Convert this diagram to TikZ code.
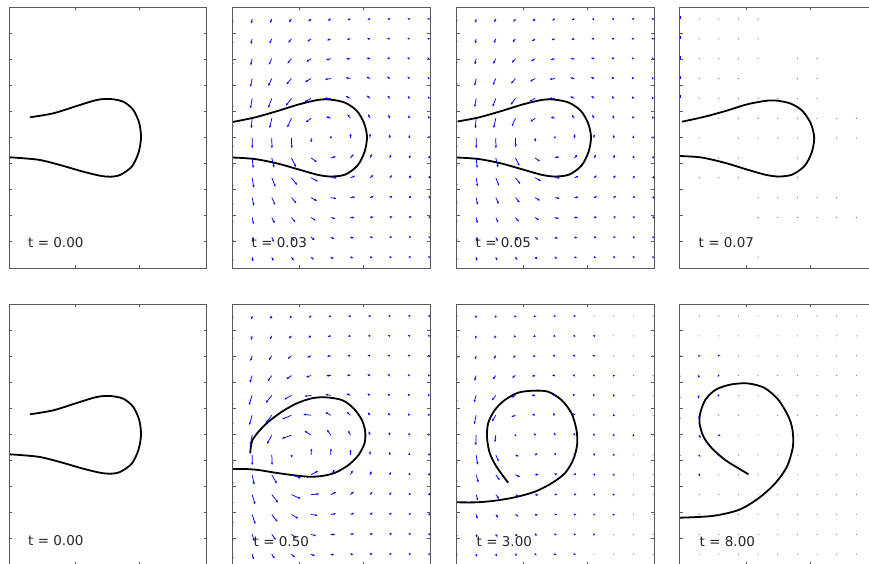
\documentclass[tikz,border=0pt]{standalone}
\usepackage{fontspec}
\setmainfont{DejaVu Sans}
\usetikzlibrary{arrows.meta}

% frame and ticks of one panel
\newcommand\frm{%
  \draw[ax] (0,0) rectangle (197.5,261);
  \foreach \ty in {1,...,9}{
    \draw[ax] (0,26.1*\ty) -- ++(3,0);
    \draw[ax] (197.5,26.1*\ty) -- ++(-3,0);}
  \foreach \tx in {66.5,130.5}{
    \draw[ax] (\tx,0) -- ++(0,3);
    \draw[ax] (\tx,261) -- ++(0,-3);}
}

% velocity arrows from vortices vx/vy/vg/va (units of 10px) and their images
\newcommand\quiv[1]{%
  \foreach \j in {0,...,10}{
    \foreach \k in {0,...,12}{
      \pgfmathsetmacro\qx{1.965*\j}
      \pgfmathsetmacro\qy{1.2+1.985*\k}
      \gdef\qu{0}\gdef\qv{0}
      \foreach \vx/\vy/\vg/\va in {#1}{
        \pgfmathsetmacro\rx{\qx-\vx}
        \pgfmathsetmacro\ry{\qy-\vy}
        \pgfmathsetmacro\ra{\rx*\rx+\ry*\ry+\va*\va}
        \pgfmathsetmacro\rb{(\qx+\vx)*(\qx+\vx)+\ry*\ry+\va*\va}
        \pgfmathsetmacro\tu{\qu+\vg*(\ry/\ra-\ry/\rb)}
        \pgfmathsetmacro\tv{\qv+\vg*((\qx+\vx)/\rb-\rx/\ra)}
        \xdef\qu{\tu}\xdef\qv{\tv}}
      \pgfmathsetmacro\qL{veclen(\qu,\qv)}
      \pgfmathsetmacro\qs{min(1,10/max(\qL,0.01))}
      \ifdim\qL pt<1.3pt
        \fill[qd] (10*\qx,10*\qy) circle[radius=0.6pt];
      \else
        \draw[qv] (10*\qx,10*\qy) -- ++(\qs*\qu,\qs*\qv);
      \fi
  }}}

\begin{document}
\begin{tikzpicture}[x=1pt,y=-1pt,
  ax/.style={draw=black!65,line width=0.9pt},
  crv/.style={line width=1.8pt,line join=round},
  qv/.style={blue,line width=0.75pt,-{Stealth[length=2.6pt,width=2.2pt]}},
  qd/.style={blue!60},
  lbl/.style={anchor=west,font=\fontsize{13.5}{16}\selectfont,text=black!85,inner sep=0pt}]
\useasboundingbox (0,0) rectangle (869,564);

% top row
\begin{scope}[shift={(9,7)}]
  \begin{scope}\clip (0,0) rectangle (197.5,261);
  \draw[crv] plot[smooth] coordinates {(21,110.3) (44.3,106.3) (67.7,99) (87.7,93) (101,92) (114.3,94.7) (124.3,103) (130.3,116.3) (132,131.3) (129.3,146.3) (122.7,159.7) (111,168) (101,169.7) (91,168.7) (74.3,164.7) (51,158) (31,153) (11,151) (0,150.3)};
  \end{scope}
  \frm
  \node[lbl] (l1) at (19,236) {t = 0.00};
\end{scope}

\begin{scope}[shift={(232.5,7)}]
  \begin{scope}\clip (0,0) rectangle (197.5,261);
  \draw[crv] plot[smooth] coordinates {(0,115) (22,110.5) (45,104) (66,97.5) (85,93) (97,92.5) (112,95.5) (124,103.5) (131.5,116) (134.5,130) (132,145) (125,158.5) (113,167.5) (99,169.5) (86,168) (68,163) (45,156.5) (22,152) (0,150.5)};
  \quiv{8/13/60/4}
  \end{scope}
  \frm
  \node[lbl] (l2) at (19,236) {t = 0.03};
\end{scope}

\begin{scope}[shift={(456.5,7)}]
  \begin{scope}\clip (0,0) rectangle (197.5,261);
  \draw[crv] plot[smooth] coordinates {(1,114.5) (22,110.5) (45,104) (66,97.5) (85,93) (97,92.5) (112,95.5) (124,103.5) (131.5,116) (134.5,130) (132,145) (125,158.5) (113,167.5) (99,169.5) (86,168) (68,163) (45,156.5) (22,152) (0,150.5)};
  \quiv{8/13/52/4}
  \end{scope}
  \frm
  \node[lbl] (l3) at (19,236) {t = 0.05};
\end{scope}

\begin{scope}[shift={(679.5,7)}]
  \begin{scope}\clip (0,0) rectangle (197.5,261);
  \draw[crv] plot[smooth] coordinates {(2.4,114.7) (24,110) (46,104) (67,97.5) (85,94) (96,93.5) (111,96.5) (123,104) (131.5,117) (134.7,131.3) (132,146) (125,159) (113,167.5) (100,169.5) (87,168) (69,163) (46,156) (22,150.5) (0,149)};
  \foreach \k/\cols in {0/{1,2,3,4},1/{1,2,3,4},2/{1,2,3,4,6,7},3/{1,2,3,6,7},
      4/{1,2,3,4,5,6,7},5/{1,2,3,4,5,6,7,8,9},6/{1,3,4,5,6,8,9},7/{2,3,6},
      8/{1,2,3,5,6},9/{4,5,6,7,8},10/{4,5,6,7,8,9},12/{4}}
    \foreach \j in \cols
      \fill[qd] (19.65*\j,12+19.85*\k) circle[radius=0.65pt];
  \foreach \k in {0,...,4}
    \draw[blue,line width=0.7pt] (0.5,12+19.85*\k) -- ++(0,-3);
  \end{scope}
  \frm
  \node[lbl] (l4) at (19,236) {t = 0.07};
\end{scope}

% bottom row
\begin{scope}[shift={(9,304)}]
  \begin{scope}\clip (0,0) rectangle (197.5,261);
  \draw[crv] plot[smooth] coordinates {(21,110.3) (44.3,106.3) (67.7,99) (87.7,93) (101,92) (114.3,94.7) (124.3,103) (130.3,116.3) (132,131.3) (129.3,146.3) (122.7,159.7) (111,168) (101,169.7) (91,168.7) (74.3,164.7) (51,158) (31,153) (11,151) (0,150.3)};
  \end{scope}
  \frm
  \node[lbl] (l5) at (19,237) {t = 0.00};
\end{scope}

\begin{scope}[shift={(232.5,304)}]
  \begin{scope}\clip (0,0) rectangle (197.5,261);
  \draw[crv] plot[smooth] coordinates {(0,165) (12.7,165) (26,166) (42.7,168.7) (59.4,171) (76,172.7) (89.4,172) (102.7,168.7) (116,161) (126,151) (132,139.3) (132.7,127.7) (129.4,116) (121,104.3) (109.4,96) (92.7,93.3) (79.4,94.3) (64.4,99.3) (49.4,107.7) (36,117.7) (26,127.7) (20,136) (18.4,142.7) (17.7,149.3)};
  \quiv{5.5/15/70/3}
  \end{scope}
  \frm
  \node[lbl] (l6) at (21,237.5) {t = 0.50};
\end{scope}

\begin{scope}[shift={(456.5,304)}]
  \begin{scope}\clip (0,0) rectangle (197.5,261);
  \draw[crv] plot[smooth] coordinates {(0,198.3) (20,198.3) (38.3,196.7) (58.3,193.3) (78.3,187.7) (95,179.3) (108.3,169.3) (116.6,156) (120.6,141) (120,126) (115,109.3) (105,96) (91.6,87.7) (76.6,86.7) (61.6,88.7) (48.3,96) (38.3,106) (31.6,119.3) (30.6,134.3) (33.3,149.3) (40,162.7) (51.6,178.7)};
  \quiv{5/13.5/45/4}
  \end{scope}
  \frm
  \node[lbl] (l7) at (20,237.5) {t = 3.00};
\end{scope}

\begin{scope}[shift={(679.5,304)}]
  \begin{scope}\clip (0,0) rectangle (197.5,261);
  \draw[crv] plot[smooth] coordinates {(0,213.7) (32.4,212) (59,206) (79,194.3) (95.7,179.3) (107.4,162.7) (113.4,142.7) (113,126) (109,112.7) (99,96) (85.7,84.3) (72.4,80) (62.4,79.3) (49,81) (35.7,86) (25.7,96) (20.7,109.3) (20,119.3) (24,132.7) (32.4,144.3) (45.7,156) (59,164.3) (69,170.3)};
  \quiv{3/11/15/3}
  \end{scope}
  \frm
  \node[lbl] (l8) at (20,237.5) {t = 8.00};
\end{scope}
\end{tikzpicture}
\end{document}
